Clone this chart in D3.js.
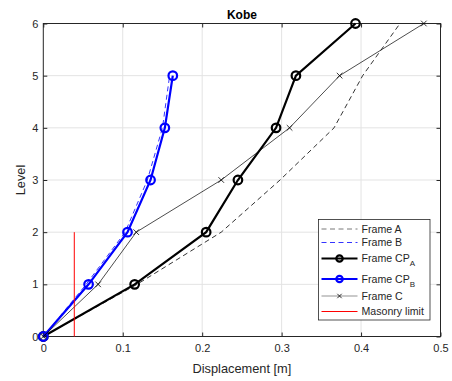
<!DOCTYPE html>
<html>
<head>
<meta charset="utf-8">
<script src="https://cdn.jsdelivr.net/npm/d3@7"></script>
<style>
  body { margin: 0; background: #fff; }
  svg { display: block; font-family: "Liberation Sans", Arial, Helvetica, sans-serif; }
</style>
</head>
<body>
<svg id="chart" width="452" height="381"></svg>
<script>
// Storey levels and peak displacements (m) per frame
const levels6 = [0, 1, 2, 3, 4, 5, 6];
const levels5 = [0, 1, 2, 3, 4, 5];
const frameA   = [0, 0.118, 0.224, 0.298, 0.366, 0.402, 0.449];
const frameB   = [0, 0.054, 0.103, 0.131, 0.150, 0.159];
const frameCPA = [0, 0.115, 0.205, 0.245, 0.293, 0.318, 0.393];
const frameCPB = [0, 0.057, 0.106, 0.135, 0.153, 0.163];
const frameC   = [0, 0.069, 0.117, 0.224, 0.310, 0.373, 0.479];
const masonryLimit = 0.039;
const masonryLevels = [0, 2];
const xTicks = [0, 0.1, 0.2, 0.3, 0.4, 0.5];
const yTicks = [0, 1, 2, 3, 4, 5, 6];

const svg = d3.select("#chart");
const m = { left: 43.3, right: 440.5, top: 23.5, bottom: 336.5 };
const x = d3.scaleLinear().domain([0, 0.5]).range([m.left, m.right]);
const y = d3.scaleLinear().domain([0, 6]).range([m.bottom, m.top]);

// grid
const grid = svg.append("g");
grid.selectAll(".gx").data(xTicks.slice(1, -1)).join("line")
  .attr("x1", d => x(d)).attr("x2", d => x(d))
  .attr("y1", m.top).attr("y2", m.bottom)
  .attr("stroke", "#e3e3e3").attr("stroke-width", 1);
grid.selectAll(".gy").data(yTicks.slice(1, -1)).join("line")
  .attr("x1", m.left).attr("x2", m.right)
  .attr("y1", d => y(d)).attr("y2", d => y(d))
  .attr("stroke", "#e3e3e3").attr("stroke-width", 1);

// axes with inward ticks on all sides
const tickLen = 4;
const axStyle = g => {
  g.select(".domain").remove();
  g.selectAll(".tick line").attr("stroke", "#262626");
  g.selectAll(".tick text").attr("fill", "#262626").style("font-size", "11px")
    .style("font-family", "'Liberation Sans', Arial, sans-serif");
};
svg.append("g").attr("transform", `translate(0,${m.bottom})`)
  .call(d3.axisBottom(x).tickValues(xTicks).tickFormat(d3.format("~g")).tickSizeInner(-tickLen).tickSizeOuter(0).tickPadding(8))
  .call(axStyle);
svg.append("g").attr("transform", `translate(0,${m.top})`)
  .call(d3.axisTop(x).tickValues(xTicks).tickFormat("").tickSizeInner(-tickLen).tickSizeOuter(0))
  .call(axStyle);
svg.append("g").attr("transform", `translate(${m.left},0)`)
  .call(d3.axisLeft(y).tickValues(yTicks).tickFormat(d3.format("d")).tickSizeInner(-tickLen).tickSizeOuter(0).tickPadding(5))
  .call(axStyle);
svg.append("g").attr("transform", `translate(${m.right},0)`)
  .call(d3.axisRight(y).tickValues(yTicks).tickFormat("").tickSizeInner(-tickLen).tickSizeOuter(0))
  .call(axStyle);

svg.append("rect").attr("x", m.left).attr("y", m.top)
  .attr("width", m.right - m.left).attr("height", m.bottom - m.top)
  .attr("fill", "none").attr("stroke", "#262626").attr("stroke-width", 1);

// series
const plot = svg.append("g");
const line = d3.line().x(d => x(d[0])).y(d => y(d[1]));
const zipS = (xs, ls) => xs.map((v, i) => [v, ls[i]]);

const series = [
  { name: "Frame A", pts: zipS(frameA, levels6), color: "#000", legendColor: "#555", w: 0.8, dash: "5,3.5", marker: null },
  { name: "Frame B", pts: zipS(frameB, levels5), color: "#0000ff", w: 0.8, dash: "5,3.5", marker: null },
  { name: "Frame CP", sub: "A", pts: zipS(frameCPA, levels6), color: "#000", w: 2.2, dash: null, marker: "o" },
  { name: "Frame CP", sub: "B", pts: zipS(frameCPB, levels5), color: "#0000ff", w: 2.2, dash: null, marker: "o" },
  { name: "Frame C", pts: zipS(frameC, levels6), color: "#000", legendColor: "#666", w: 0.7, dash: null, marker: "x" },
  { name: "Masonry limit", pts: masonryLevels.map(l => [masonryLimit, l]), color: "#ff0000", w: 1, dash: null, marker: null }
];

function drawMarker(g, type, cx, cy, color, r) {
  if (type === "o") {
    g.append("circle").attr("cx", cx).attr("cy", cy).attr("r", r)
      .attr("fill", "none").attr("stroke", color).attr("stroke-width", 2.2);
  } else if (type === "x") {
    g.append("path").attr("d", `M${cx - r},${cy - r}L${cx + r},${cy + r}M${cx - r},${cy + r}L${cx + r},${cy - r}`)
      .attr("stroke", color).attr("stroke-width", 0.8);
  }
}

series.forEach(s => {
  plot.append("path").datum(s.pts).attr("d", line)
    .attr("fill", "none").attr("stroke", s.color).attr("stroke-width", s.w)
    .attr("stroke-dasharray", s.dash);
  if (s.marker) {
    s.pts.forEach(p => drawMarker(plot, s.marker, x(p[0]), y(p[1]), s.color, s.marker === "o" ? 4.3 : 2.8));
  }
});

// title and axis labels
svg.append("text").attr("x", (m.left + m.right) / 2).attr("y", 19)
  .attr("text-anchor", "middle").style("font-size", "12px").style("font-weight", "bold")
  .attr("fill", "#000").text("Kobe");
svg.append("text").attr("x", (m.left + m.right) / 2).attr("y", 373)
  .attr("text-anchor", "middle").style("font-size", "12.8px").attr("fill", "#262626")
  .text("Displacement [m]");
svg.append("text").attr("transform", `translate(25,${(m.top + m.bottom) / 2}) rotate(-90)`)
  .attr("text-anchor", "middle").style("font-size", "12.8px").attr("fill", "#262626")
  .text("Level");

// legend
const lg = svg.append("g");
lg.append("rect").attr("x", 318.5).attr("y", 219.5).attr("width", 111.5).attr("height", 100.5)
  .attr("fill", "#fff").attr("stroke", "#262626").attr("stroke-width", 0.8);
const rowY = [229, 242.5, 258.5, 279, 296, 311.5];
series.forEach((s, i) => {
  const yy = rowY[i];
  const c = s.legendColor || s.color;
  lg.append("line").attr("x1", 321.5).attr("x2", 357.5).attr("y1", yy).attr("y2", yy)
    .attr("stroke", c).attr("stroke-width", s.w).attr("stroke-dasharray", s.dash);
  if (s.marker === "o") drawMarker(lg, "o", 339.5, yy, s.color, 3.2);
  if (s.marker === "x") drawMarker(lg, "x", 339.5, yy, "#000", 2.2);
  const t = lg.append("text").attr("x", 361.5).attr("y", yy + 3.8)
    .style("font-size", "10.6px").attr("fill", "#262626").text(s.name);
  if (s.sub) {
    t.append("tspan").attr("dy", 4).style("font-size", "8px").text(s.sub);
  }
});
</script>
</body>
</html>
